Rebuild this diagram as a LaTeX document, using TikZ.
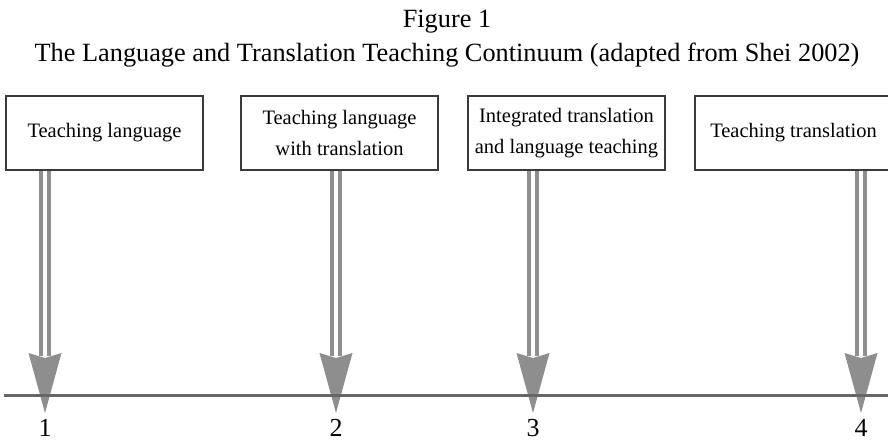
\documentclass[tikz,border=0pt]{standalone}
\usepackage{fontspec}
\setmainfont{Liberation Serif}
\usetikzlibrary{calc,positioning}
\definecolor{shaftgray}{HTML}{8E8E8E}
\definecolor{axisgray}{HTML}{666666}
\definecolor{boxedge}{HTML}{3A3A3A}
\tikzset{
  stage/.style={draw=boxedge, line width=1.2pt, minimum width=197pt, minimum height=74pt, inner sep=0pt, align=center, font=\fontsize{20.5}{31}\selectfont},
  shaft/.style={draw=shaftgray, line width=4.2pt, double=white, double distance=3.6pt},
  tiphead/.style={fill=shaftgray},
  numlabel/.style={anchor=base, inner sep=0pt, font=\fontsize{26}{30}\selectfont},
  titleline/.style={anchor=base, font=\fontsize{26.3}{30}\selectfont}
}
\begin{document}
\begin{tikzpicture}[x=1pt,y=1pt]
\useasboundingbox (0,0) rectangle (888,442);
\node[titleline] (fig) at (447,414) {Figure 1};
\node[titleline] (caption) at (447,380) {The Language and Translation Teaching Continuum (adapted from Shei 2002)};
% the four stages
\node[stage] (s1) at (104.5,309) {Teaching language};
\node[stage] (s2) at (339.5,309) {Teaching language\\with translation};
\node[stage] (s3) at (566.5,309) {Integrated translation\\and language teaching};
\node[stage] (s4) at (793.5,309) {Teaching translation};
% arrow tips on the continuum
\coordinate (t1) at (45,29);
\coordinate (t2) at (336,29);
\coordinate (t3) at (533,29);
\coordinate (t4) at (861,29);
\draw[shaft] (s1.south -| t1) -- ($(t1)+(0,57)$);
\draw[shaft] (s2.south -| t2) -- ($(t2)+(0,57)$);
\draw[shaft] (s3.south -| t3) -- ($(t3)+(0,57)$);
\draw[shaft] (s4.south -| t4) -- ($(t4)+(0,57)$);
\fill[tiphead] (t1) -- ++(-16.5,60) -- ++(16.5,-5) -- ++(16.5,5) -- cycle;
\fill[tiphead] (t2) -- ++(-16.5,60) -- ++(16.5,-5) -- ++(16.5,5) -- cycle;
\fill[tiphead] (t3) -- ++(-16.5,60) -- ++(16.5,-5) -- ++(16.5,5) -- cycle;
\fill[tiphead] (t4) -- ++(-16.5,60) -- ++(16.5,-5) -- ++(16.5,5) -- cycle;
\draw[axisgray, line width=3pt] (4,47) coordinate(A) -- (888,47) coordinate(B);
\node[numlabel] (n1) at ($(t1)+(0,-23)$) {1};
\node[numlabel] (n2) at ($(t2)+(0,-23)$) {2};
\node[numlabel] (n3) at ($(t3)+(0,-23)$) {3};
\node[numlabel] (n4) at ($(t4)+(0,-23)$) {4};
\end{tikzpicture}
\end{document}
